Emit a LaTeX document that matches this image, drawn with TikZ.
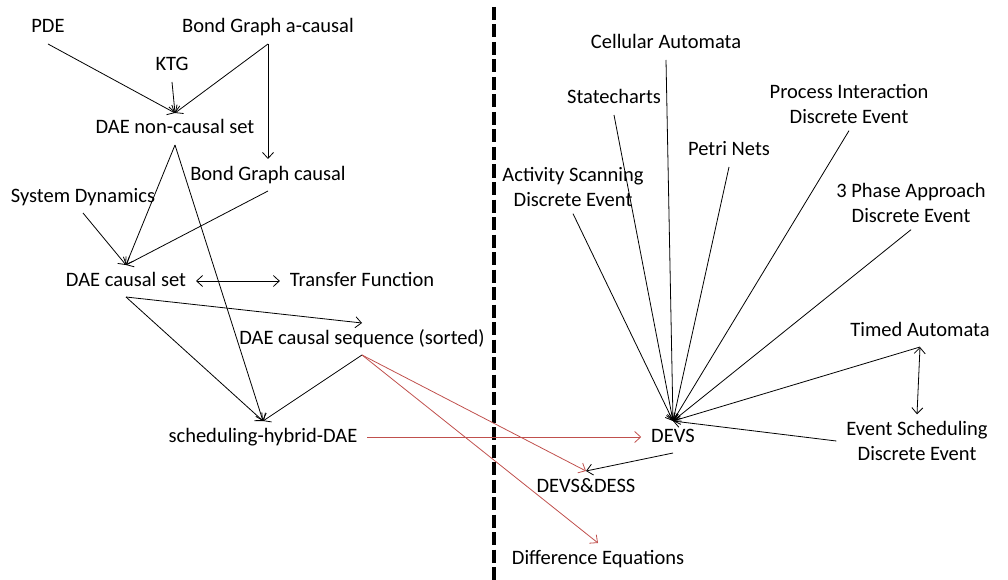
\documentclass[tikz,border=0pt]{standalone}
\usepackage{fontspec}
\setmainfont{Carlito}
\usetikzlibrary{arrows.meta}
\definecolor{linkred}{RGB}{192,80,77}
\begin{document}
\begin{tikzpicture}[x=1pt, y=-1pt,
        every node/.style={font=\fontsize{20.5}{25}\selectfont, inner sep=0pt, outer xsep=10pt, outer ysep=7pt},
        lbl/.style={text height=14pt, text depth=4pt},
        two/.style={align=center},
        link/.style={-{Straight Barb[length=6pt,width=11pt]}, line width=0.8pt},
        both/.style={{Straight Barb[length=6pt,width=11pt]}-{Straight Barb[length=6pt,width=11pt]}, line width=0.8pt},
        redlink/.style={link, color=linkred}]
        \useasboundingbox (0,0) rectangle (1008,580);

        % continuous side
        \node[lbl] (pde) at (48,28) {PDE};
        \node[lbl] (bga) at (268,28) {Bond Graph a-causal};
        \node[lbl] (ktg) at (172,66) {KTG};
        \node[lbl] (daenc) at (175,129) {DAE non-causal set};
        \node[lbl] (bgc) at (268,175) {Bond Graph causal};
        \node[lbl] (sysdyn) at (83,197) {System Dynamics};
        \node[lbl] (daecs) at (126,281) {DAE causal set};
        \node[lbl] (tf) at (362,281) {Transfer Function};
        \node[lbl] (daeseq) at (362,339) {DAE causal sequence (sorted)};
        \node[lbl] (sched) at (263,437) {scheduling-hybrid-DAE};

        % discrete side
        \node[lbl] (cellaut) at (666,44) {Cellular Automata};
        \node[lbl] (statech) at (614,99) {Statecharts};
        \node[two] (procint) at (849,104) {Process Interaction\\Discrete Event};
        \node[lbl] (petri) at (729,151) {Petri Nets};
        \node[two] (actscan) at (573,187) {Activity Scanning\\Discrete Event};
        \node[two] (threeph) at (911,203) {3 Phase Approach\\Discrete Event};
        \node[lbl] (timedaut) at (920,331) {Timed Automata};
        \node[two] (evsched) at (917,441) {Event Scheduling\\Discrete Event};
        \node[lbl] (devs) at (673,437) {DEVS};
        \node[lbl] (devsdess) at (586,487) {DEVS\&DESS};
        \node[lbl] (diffeq) at (598,559) {Difference Equations};

        \draw[line width=4pt, dash pattern=on 13pt off 4.5pt] (494,7) -- (494,580);

        \draw[link] (pde.south) -- (daenc.north);
        \draw[link] (ktg.south) -- (daenc.north);
        \draw[link] (bga.south) -- (daenc.north);
        \draw[link] (bga.south) -- (bga.south |- bgc.north);
        \draw[link] (daenc.south) -- (daecs.north);
        \draw[link] (daenc.south) -- (sched.north);
        \draw[link] (bgc.south) -- (daecs.north);
        \draw[link] (sysdyn.south) -- (daecs.north);
        \draw[both] (daecs.east) -- (tf.west);
        \draw[link] (daecs.south) -- (daeseq.north);
        \draw[link] (daecs.south) -- (sched.north);
        \draw[link] (daeseq.south) -- (sched.north);

        \foreach \src in {actscan, statech, cellaut, petri, procint, threeph, timedaut}
            \draw[link] (\src.south) -- (devs.north);
        \draw[link] (evsched.west) -- (devs.north);
        \draw[both] (timedaut.south) -- (evsched.north);
        \draw[link] (devs.south) -- (devsdess.north);

        \draw[redlink] (sched.east) -- (devs.west);
        \draw[redlink] (daeseq.south) -- (devsdess.north);
        \draw[redlink] (daeseq.south) -- (diffeq.north);
\end{tikzpicture}
\end{document}
